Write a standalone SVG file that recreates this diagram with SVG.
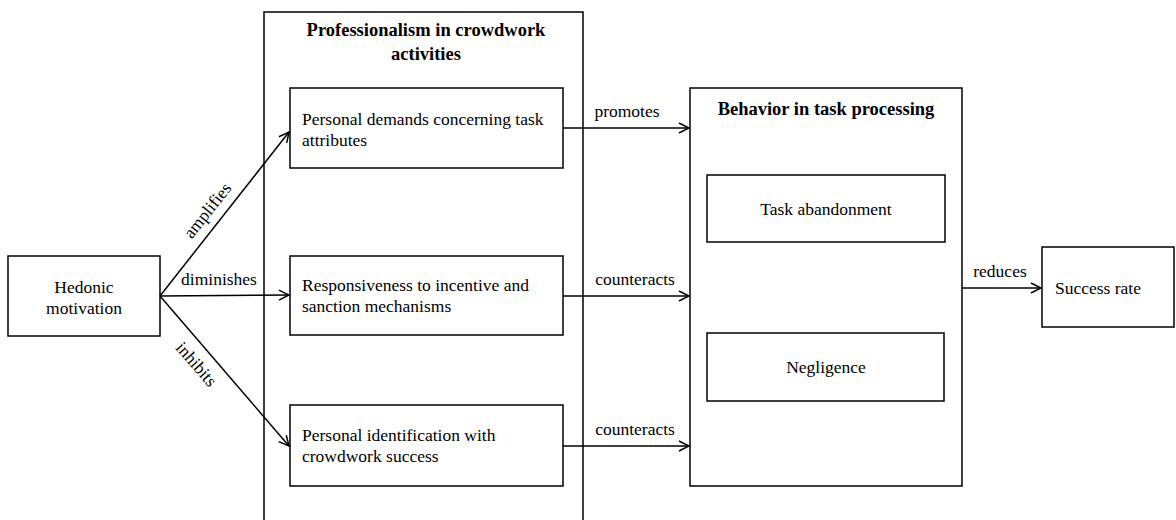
<svg xmlns="http://www.w3.org/2000/svg" width="1176" height="520" viewBox="0 0 1176 520">
<style>
.box{fill:#fff;stroke:#000;stroke-width:1.5}
.frame{fill:none;stroke:#000;stroke-width:1.5}
text{font-family:"Liberation Serif","Times New Roman",serif;font-size:17.5px;fill:#000}
.b{font-weight:bold;font-size:18.5px}
.c{text-anchor:middle}
.con{stroke:#000;stroke-width:1.5;fill:none;marker-end:url(#ah)}
</style>
<defs>
<marker id="ah" viewBox="0 0 12 12" refX="11" refY="6" markerWidth="12" markerHeight="12" markerUnits="userSpaceOnUse" orient="auto">
<path d="M1,1 L11,6 L1,11" fill="none" stroke="#000" stroke-width="1.5"/>
</marker>
</defs>
<rect width="1176" height="520" fill="#fff"/>
<g id="professionalism">
<rect class="frame" x="264" y="12" width="319" height="520"/>
<text class="b c" x="426" y="36">Professionalism in crowdwork</text>
<text class="b c" x="426" y="60">activities</text>
</g>
<g id="behavior">
<rect class="box" x="690" y="88" width="272" height="398"/>
<text class="b c" x="826" y="115">Behavior in task processing</text>
</g>
<g id="hedonic">
<rect class="box" x="8" y="256" width="152" height="80"/>
<text class="c" x="84" y="293">Hedonic</text>
<text class="c" x="84" y="314">motivation</text>
</g>
<g id="demands">
<rect class="box" x="290" y="88" width="273" height="80"/>
<text x="302" y="125">Personal demands concerning task</text>
<text x="302" y="146">attributes</text>
</g>
<g id="responsiveness">
<rect class="box" x="290" y="256" width="273" height="79"/>
<text x="302" y="291">Responsiveness to incentive and</text>
<text x="302" y="312">sanction mechanisms</text>
</g>
<g id="identification">
<rect class="box" x="290" y="405" width="273" height="81"/>
<text x="302" y="441">Personal identification with</text>
<text x="302" y="462">crowdwork success</text>
</g>
<g id="abandonment">
<rect class="box" x="707" y="175" width="238" height="67"/>
<text class="c" x="826" y="215">Task abandonment</text>
</g>
<g id="negligence">
<rect class="box" x="707" y="333" width="237" height="68"/>
<text class="c" x="826" y="373">Negligence</text>
</g>
<g id="success">
<rect class="box" x="1042" y="247" width="132" height="80"/>
<text class="c" x="1098" y="294">Success rate</text>
</g>
<g id="connectors">
<line class="con" x1="160" y1="296" x2="289" y2="132"/>
<line class="con" x1="160" y1="296" x2="289" y2="295"/>
<line class="con" x1="160" y1="296" x2="289" y2="446"/>
<line class="con" x1="563" y1="128" x2="689" y2="128"/>
<line class="con" x1="563" y1="296" x2="689" y2="296"/>
<line class="con" x1="563" y1="446" x2="689" y2="446"/>
<line class="con" x1="962" y1="288" x2="1041" y2="288"/>
<text class="c" transform="translate(212,214) rotate(-51.5)">amplifies</text>
<text class="c" x="219" y="285">diminishes</text>
<text class="c" transform="translate(192,368) rotate(49)">inhibits</text>
<text class="c" x="627" y="117">promotes</text>
<text class="c" x="635" y="285">counteracts</text>
<text class="c" x="635" y="435">counteracts</text>
<text class="c" x="1000" y="277">reduces</text>
</g>
</svg>
